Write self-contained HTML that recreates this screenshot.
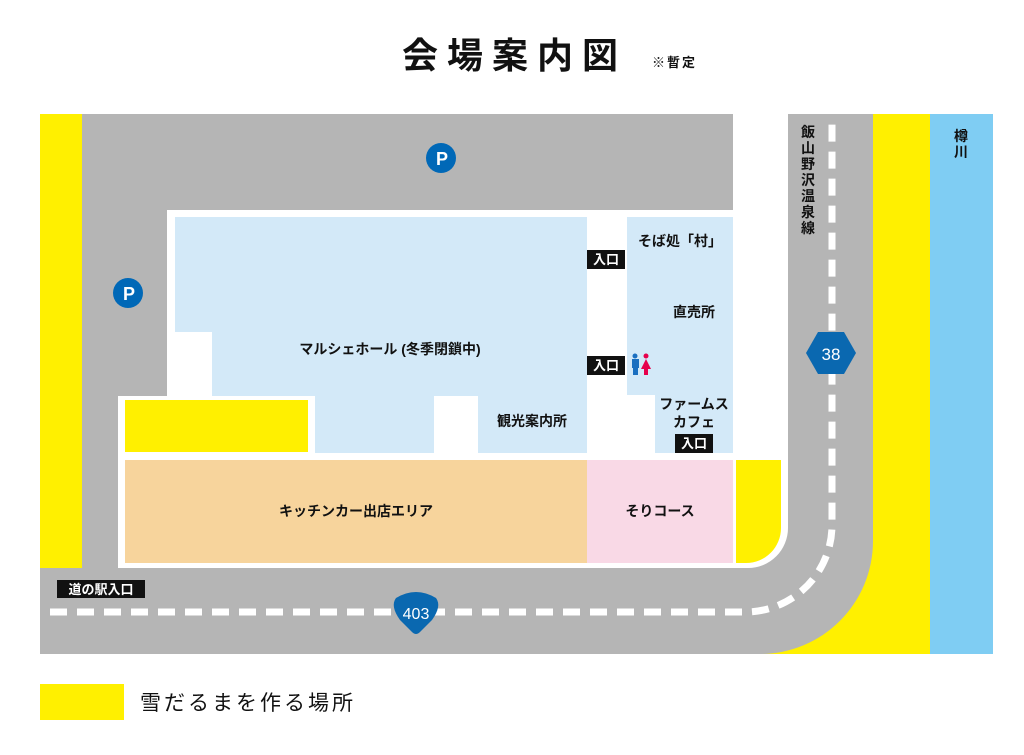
<!DOCTYPE html>
<html><head><meta charset="utf-8"><style>
html,body{margin:0;padding:0;background:#fff;}
svg{display:block;}
text{font-family:"Liberation Sans","Noto Sans CJK JP",sans-serif;}
</style></head><body>
<svg width="1024" height="755" viewBox="0 0 1024 755" xmlns="http://www.w3.org/2000/svg">
<rect width="1024" height="755" fill="#fff"/>
<text x="402" y="68" font-size="36" font-weight="bold" letter-spacing="9" fill="#111">会場案内図</text>
<text x="652" y="67" font-size="13" font-weight="bold" letter-spacing="2" fill="#111">※暫定</text>

<!-- river -->
<rect x="930" y="114" width="63" height="540" fill="#7fcdf3"/>
<text x="961" y="141" font-size="14" font-weight="bold" text-anchor="middle" fill="#111">樽</text>
<text x="961" y="157" font-size="14" font-weight="bold" text-anchor="middle" fill="#111">川</text>
<!-- yellow -->
<rect x="873" y="114" width="57" height="540" fill="#fff000"/>
<rect x="800" y="530" width="80" height="124" fill="#fff000"/>
<rect x="760" y="600" width="120" height="54" fill="#fff000"/>
<rect x="40" y="114" width="42" height="454" fill="#fff000"/>
<!-- roads -->
<path d="M40,568 H748 A40,40 0 0 0 788,528 V114 H873 V541 A113,113 0 0 1 760,654 H40 Z" fill="#b5b5b5"/>
<rect x="82" y="114" width="651" height="96" fill="#b5b5b5"/>
<rect x="82" y="114" width="85" height="282" fill="#b5b5b5"/>
<rect x="82" y="390" width="36" height="180" fill="#b5b5b5"/>
<!-- dashes -->
<path d="M50,612 H745 A87,87 0 0 0 832,525 V116" fill="none" stroke="#fff" stroke-width="7" stroke-dasharray="17,10"/>

<!-- buildings -->
<rect x="175" y="217" width="412" height="115" fill="#d3e9f8"/>
<rect x="212" y="330" width="375" height="66" fill="#d3e9f8"/>
<rect x="315" y="394" width="119" height="59" fill="#d3e9f8"/>
<rect x="478" y="394" width="109" height="59" fill="#d3e9f8"/>
<rect x="627" y="217" width="106" height="178" fill="#d3e9f8"/>
<rect x="655" y="393" width="78" height="60" fill="#d3e9f8"/>
<rect x="125" y="400" width="183" height="52" fill="#fff000"/>
<rect x="125" y="460" width="462" height="103" fill="#f7d49c"/>
<rect x="587" y="460" width="146" height="103" fill="#f9d9e6"/>
<path d="M736,460 H781 V528 A35,35 0 0 1 746,563 H736 Z" fill="#fff000"/>

<!-- labels -->
<g font-size="14" font-weight="bold" fill="#111">
<text x="390" y="354" text-anchor="middle">マルシェホール (冬季閉鎖中)</text>
<text x="532" y="426" text-anchor="middle">観光案内所</text>
<text x="680" y="246" text-anchor="middle">そば処「村」</text>
<text x="694" y="317" text-anchor="middle">直売所</text>
<text x="694" y="409" text-anchor="middle">ファームス</text>
<text x="694" y="427" text-anchor="middle">カフェ</text>
<text x="356" y="516" text-anchor="middle">キッチンカー出店エリア</text>
<text x="660" y="516" text-anchor="middle">そりコース</text>
</g>
<g font-size="13" font-weight="bold">
<rect x="587" y="250" width="38" height="19" fill="#111"/><text x="606" y="264" fill="#fff" text-anchor="middle">入口</text>
<rect x="587" y="356" width="38" height="19" fill="#111"/><text x="606" y="370" fill="#fff" text-anchor="middle">入口</text>
<rect x="675" y="434" width="38" height="19" fill="#111"/><text x="694" y="448" fill="#fff" text-anchor="middle">入口</text>
<rect x="57" y="580" width="88" height="18" fill="#111"/><text x="101" y="594" fill="#fff" text-anchor="middle">道の駅入口</text>
</g>
<!-- toilet icons -->
<circle cx="635" cy="356" r="2.5" fill="#1a6fc0"/>
<rect x="632" y="359" width="7" height="9" fill="#1a6fc0"/><rect x="633" y="367" width="5" height="8" fill="#1a6fc0"/>
<circle cx="646" cy="356" r="2.5" fill="#e6004c"/>
<path d="M646,359 L651,369 H641 Z" fill="#e6004c"/><rect x="644" y="368" width="4" height="7" fill="#e6004c"/>

<!-- P -->
<g font-size="18" font-weight="bold" fill="#fff" text-anchor="middle">
<circle cx="441" cy="158" r="15" fill="#0068b7"/><text x="442" y="165">P</text>
<circle cx="128" cy="293" r="15" fill="#0068b7"/><text x="129" y="300">P</text>
</g>
<!-- route 38 -->
<polygon points="806,353 818,332 844,332 856,353 844,374 818,374" fill="#0a68b0"/>
<text x="831" y="360" font-size="17" fill="#fff" text-anchor="middle">38</text>
<!-- route 403 -->
<path d="M396,598 Q416,586 436,598 Q442,606 432,620 L420,632 Q416,636 412,632 L400,620 Q390,606 396,598 Z" fill="#0a68b0"/>
<text x="416" y="619" font-size="16" fill="#fff" text-anchor="middle">403</text>
<!-- road name vertical -->
<g font-size="14" font-weight="bold" fill="#111" text-anchor="middle">
<text x="808" y="137">飯</text><text x="808" y="153">山</text><text x="808" y="169">野</text><text x="808" y="185">沢</text><text x="808" y="201">温</text><text x="808" y="217">泉</text><text x="808" y="233">線</text>
</g>
<!-- legend -->
<rect x="40" y="684" width="84" height="36" fill="#fff000"/>
<text x="140" y="710" font-size="21" letter-spacing="3" fill="#111">雪だるまを作る場所</text>
</svg>
</body></html>
